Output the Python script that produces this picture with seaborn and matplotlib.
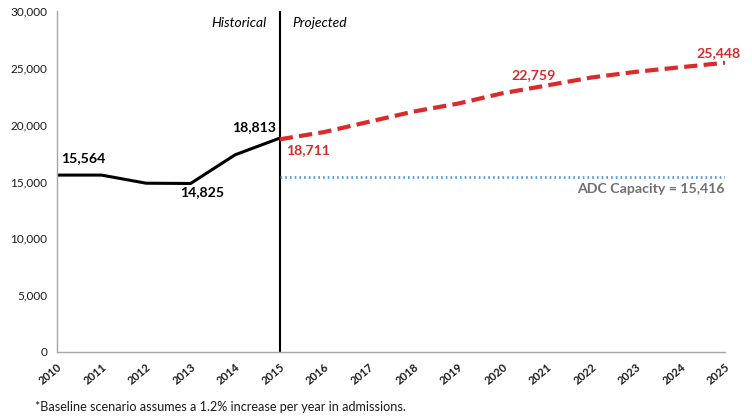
import matplotlib
matplotlib.use('Agg')
import matplotlib.pyplot as plt
import matplotlib.ticker as mticker
import seaborn as sns
import pandas as pd

# ---- data ----
hist_years = [2010, 2011, 2012, 2013, 2014, 2015]
hist_values = [15564, 15564, 14850, 14825, 17350, 18813]
proj_years = [2015, 2016, 2017, 2018, 2019, 2020, 2021, 2022, 2023, 2024, 2025]
proj_values = [18711, 19350, 20250, 21150, 21850, 22759, 23450, 24150, 24650, 25050, 25448]
capacity_years = [2015, 2025]
capacity_value = 15416
x_ticks = list(range(2010, 2026))
y_ticks = [0, 5000, 10000, 15000, 20000, 25000, 30000]

RED = '#DA2A2A'
BLUE = '#5B9BD5'
GRAY = '#A6A6A6'

sns.set_theme(style='white')
plt.rcParams['font.family'] = ['Lato', 'DejaVu Sans']

hist_df = pd.DataFrame({'year': hist_years, 'value': hist_values})
proj_df = pd.DataFrame({'year': proj_years, 'value': proj_values})
cap_df = pd.DataFrame({'year': capacity_years, 'value': [capacity_value] * len(capacity_years)})

fig = plt.figure(figsize=(7.52, 4.17), dpi=100)
ax = fig.add_axes([57 / 752, 1 - 352 / 417, 668 / 752, 341 / 417])

sns.lineplot(data=cap_df, x='year', y='value', ax=ax, color=BLUE, lw=2.0, linestyle=(0, (0.6, 1.1)))
sns.lineplot(data=hist_df, x='year', y='value', ax=ax, color='black', lw=2.2)
sns.lineplot(data=proj_df, x='year', y='value', ax=ax, color=RED, lw=3.0)
ax.lines[-1].set_dashes([3.2, 1.5])
ax.axvline(2015, color='black', lw=1.5, zorder=1)

ax.set_xlim(2010, 2025)
ax.set_ylim(0, 30000)
ax.set_xticks(x_ticks)
ax.set_xticklabels([str(t) for t in x_ticks], rotation=40, ha='right',
                   rotation_mode='anchor', fontsize=8, fontweight='bold', color='#1a1a1a')
ax.set_yticks(y_ticks)
ax.yaxis.set_major_formatter(mticker.FuncFormatter(lambda v, p: f'{int(v):,}'))
ax.tick_params(axis='y', labelsize=8.5, labelcolor='#1a1a1a')
ax.tick_params(direction='out', length=4, width=1, color=GRAY, pad=3)
ax.set_xlabel('')
ax.set_ylabel('')
for s in ['top', 'right']:
    ax.spines[s].set_visible(False)
for s in ['left', 'bottom']:
    ax.spines[s].set_color(GRAY)
    ax.spines[s].set_linewidth(1)

def lab(text, x, y, dx, dy, color, ha='center'):
    ax.annotate(text, xy=(x, y), xytext=(dx, dy), textcoords='offset pixels',
                ha=ha, va='center', fontsize=10.2, fontweight='bold', color=color)

lab(f'{hist_values[0]:,}', hist_years[0], hist_values[0], 26, 17, 'black')
lab(f'{hist_values[3]:,}', hist_years[3], hist_values[3], 12, -9, 'black')
lab(f'{hist_values[5]:,}', hist_years[5], hist_values[5], -26, 11, 'black')
lab(f'{proj_values[0]:,}', proj_years[0], proj_values[0], 28, -11, RED)
lab(f'{proj_values[5]:,}', proj_years[5], proj_values[5], 31, 18, RED)
lab(f'{proj_values[-1]:,}', proj_years[-1], proj_values[-1], -7, 10, RED)
lab(f'ADC Capacity = {capacity_value:,}', capacity_years[-1], capacity_value, 0, -12, '#707070', ha='right')

ax.annotate('Historical', xy=(2015, 30000), xytext=(-13, -12), textcoords='offset pixels',
            ha='right', va='center', fontsize=10, fontstyle='italic', color='black')
ax.annotate('Projected', xy=(2015, 30000), xytext=(13, -12), textcoords='offset pixels',
            ha='left', va='center', fontsize=10, fontstyle='italic', color='black')

fig.text(35 / 752, 1 - 407 / 417, '*Baseline scenario assumes a 1.2% increase per year in admissions.',
         ha='left', va='center', fontsize=9.1, color='#1a1a1a')

fig.savefig('out.png', dpi=100)
